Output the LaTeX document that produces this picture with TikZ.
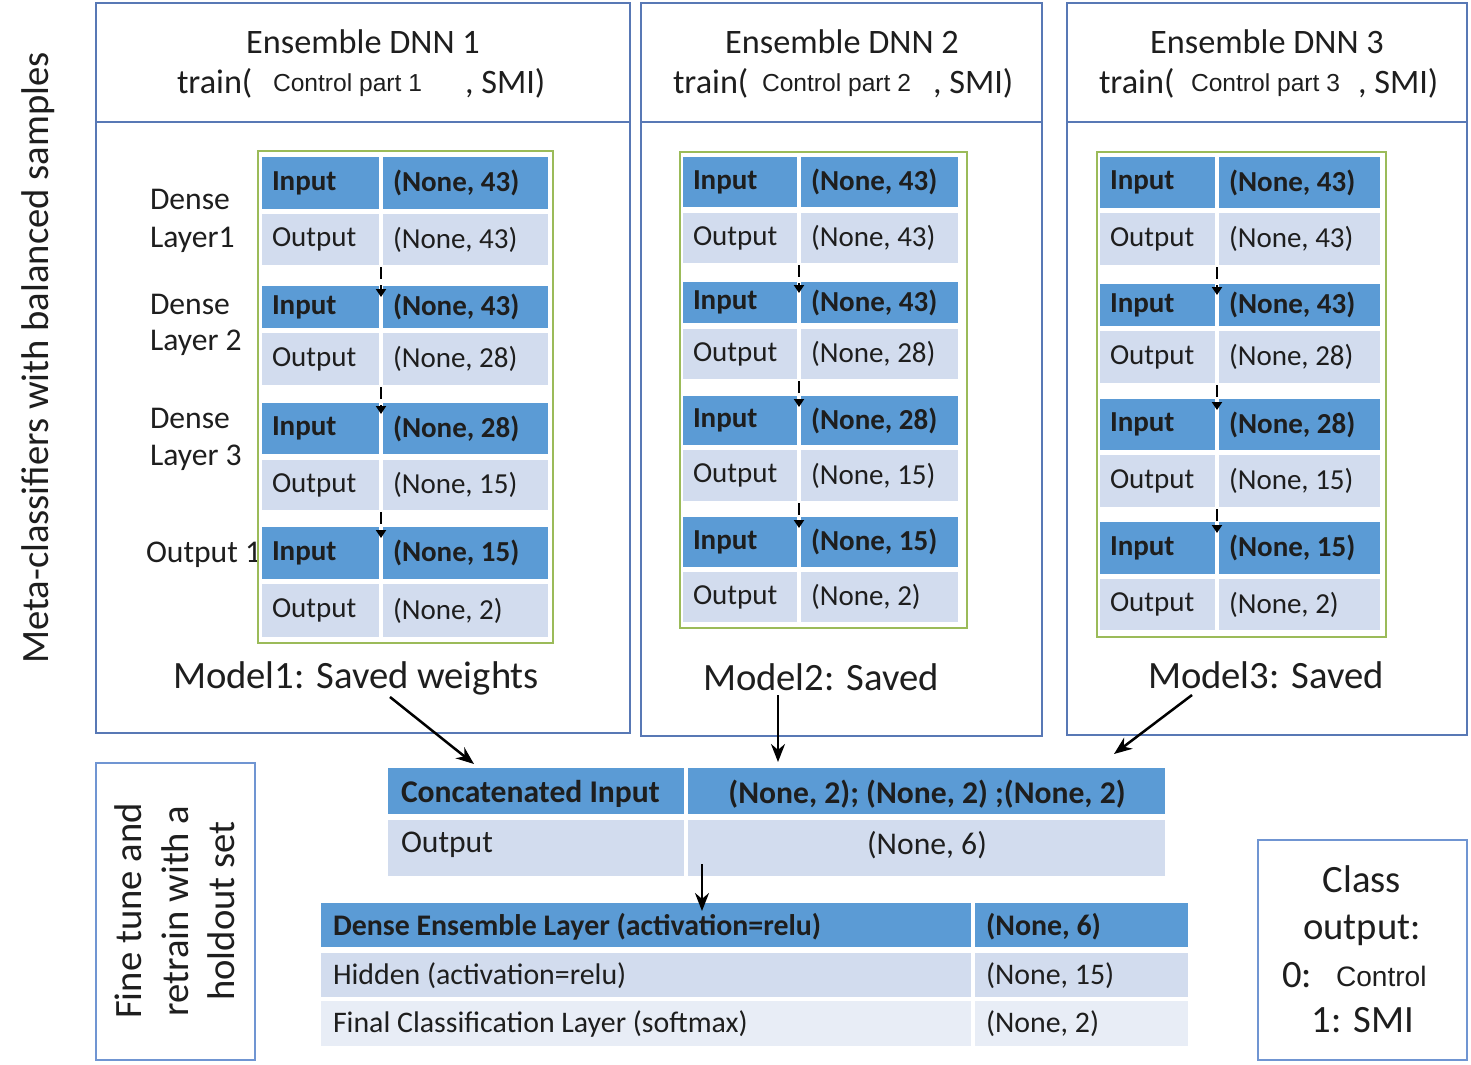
\documentclass[tikz,border=0pt]{standalone}
\usepackage{fontspec}
\setmainfont{Carlito}
\newfontfamily\arialf{Liberation Sans}
\usetikzlibrary{arrows.meta}
\definecolor{boxblue}{HTML}{5878B5}
\definecolor{lboxblue}{HTML}{7095D2}
\definecolor{cellblue}{HTML}{5B9BD5}
\definecolor{celllt}{HTML}{D2DCEE}
\definecolor{cellltt}{HTML}{E8EDF6}
\definecolor{gborder}{HTML}{9BBB59}
\definecolor{txtc}{HTML}{1E1E1E}
% name, x1, xsplit, x2, y1, y2, fill, left text, right text
\newcommand\trow[9]{%
  \fill[#7] (#2,#5) rectangle (#3-2,#6);
  \fill[#7] (#3+2,#5) rectangle (#4,#6);
  \node[celltxt] (#1l) at (#2+10,{(#5+#6)/2}) {#8};
  \node[celltxt] (#1r) at (#3+12,{(#5+#6)/2}) {#9};
  \coordinate (#1t) at (#3,#5+11);
  \coordinate (#1b) at (#3,#6+2);
}
\begin{document}
\begin{tikzpicture}[x=0.02cm,y=-0.02cm,
  every node/.style={inner sep=0pt, outer sep=0pt, text=txtc},
  obox/.style={draw=boxblue, line width=0.04cm},
  fbox/.style={draw=lboxblue, line width=0.04cm},
  gbox/.style={draw=gborder, line width=0.04cm},
  celltxt/.style={anchor=west, font=\fontsize{16.5pt}{19pt}\selectfont},
  hdr/.style={anchor=base, font=\fontsize{19.5pt}{23pt}\selectfont},
  hdrw/.style={anchor=base west, font=\fontsize{19.5pt}{23pt}\selectfont},
  arial/.style={anchor=base west, font=\fontsize{14pt}{17pt}\arialf},
  model/.style={anchor=base west, font=\fontsize{22pt}{26pt}\selectfont},
  side/.style={anchor=west, font=\fontsize{18pt}{21pt}\selectfont},
  big/.style={font=\fontsize{22pt}{26.5pt}\selectfont},
  bigtxt/.style={anchor=west, font=\fontsize{18pt}{21pt}\selectfont},
  dtxt/.style={anchor=west, font=\fontsize{17pt}{20pt}\selectfont},
  arr/.style={draw=black, line width=0.05cm, -{Stealth[length=0.36cm,width=0.28cm]}},
  dasharr/.style={draw=black, line width=0.04cm, dash pattern=on 0.24cm off 0.12cm, -{Triangle[length=0.16cm,width=0.2cm]}},
]
\useasboundingbox (0,0) rectangle (1471,1065);

% ---------- vertical title ----------
\node[rotate=90, big] (title) at (38,358) {Meta-classifiers with balanced samples};

% ---------- outer boxes ----------
\draw[obox] (96,3) rectangle (630,733);
\draw[obox] (96,122) -- (630,122);
\draw[obox] (641,3) rectangle (1042,736);
\draw[obox] (641,122) -- (1042,122);
\draw[obox] (1067,3) rectangle (1467,735);
\draw[obox] (1067,122) -- (1467,122);

% ---------- headers ----------
\node[hdr] (h1) at (363,53) {Ensemble DNN 1};
\node[hdrw] (h1a) at (177,93) {train(};
\node[arial] (h1b) at (273,91) {Control part 1};
\node[hdrw] (h1c) at (465,93) {, SMI)};

\node[hdr] (h2) at (842,53) {Ensemble DNN 2};
\node[hdrw] (h2a) at (673,93) {train(};
\node[arial] (h2b) at (762,91) {Control part 2};
\node[hdrw] (h2c) at (933,93) {, SMI)};

\node[hdr] (h3) at (1267,53) {Ensemble DNN 3};
\node[hdrw] (h3a) at (1099,93) {train(};
\node[arial] (h3b) at (1191,91) {Control part 3};
\node[hdrw] (h3c) at (1358,93) {, SMI)};

% ---------- side labels ----------
\node[side] (s1) at (150,199) {Dense};
\node[side] (s2) at (150,240) {Layer1};
\node[side] (s3) at (150,304) {Dense};
\node[side] (s4) at (150,343) {Layer 2};
\node[side] (s5) at (150,418) {Dense};
\node[side] (s6) at (150,458) {Layer 3};
\node[side] (s7) at (146,555) {Output 1};

% ---------- table 1 ----------
\fill[white] (258,151) rectangle (553,643);
\draw[gbox] (258,151) rectangle (553,643);
\trow{ta}{262}{381}{548}{157}{209}{cellblue}{\textbf{Input}}{\textbf{(None, 43)}}
\trow{tb}{262}{381}{548}{214}{265}{celllt}{Output}{(None, 43)}
\trow{tc}{262}{381}{548}{286}{328}{cellblue}{\textbf{Input}}{\textbf{(None, 43)}}
\trow{td}{262}{381}{548}{333}{385}{celllt}{Output}{(None, 28)}
\trow{te}{262}{381}{548}{403}{454}{cellblue}{\textbf{Input}}{\textbf{(None, 28)}}
\trow{tf}{262}{381}{548}{460}{510}{celllt}{Output}{(None, 15)}
\trow{tg}{262}{381}{548}{527}{579}{cellblue}{\textbf{Input}}{\textbf{(None, 15)}}
\trow{th}{262}{381}{548}{584}{637}{celllt}{Output}{(None, 2)}
\draw[dasharr] (tbb) -- (tct);
\draw[dasharr] (tdb) -- (tet);
\draw[dasharr] (tfb) -- (tgt);

% ---------- table 2 ----------
\draw[gbox] (680,152) rectangle (967,628);
\trow{ua}{683}{799}{958}{157}{207}{cellblue}{\textbf{Input}}{\textbf{(None, 43)}}
\trow{ub}{683}{799}{958}{213}{263}{celllt}{Output}{(None, 43)}
\trow{uc}{683}{799}{958}{282}{323}{cellblue}{\textbf{Input}}{\textbf{(None, 43)}}
\trow{ud}{683}{799}{958}{329}{379}{celllt}{Output}{(None, 28)}
\trow{ue}{683}{799}{958}{396}{445}{cellblue}{\textbf{Input}}{\textbf{(None, 28)}}
\trow{uf}{683}{799}{958}{450}{501}{celllt}{Output}{(None, 15)}
\trow{ug}{683}{799}{958}{517}{567}{cellblue}{\textbf{Input}}{\textbf{(None, 15)}}
\trow{uh}{683}{799}{958}{572}{622}{celllt}{Output}{(None, 2)}
\draw[dasharr] (ubb) -- (uct);
\draw[dasharr] (udb) -- (uet);
\draw[dasharr] (ufb) -- (ugt);

% ---------- table 3 ----------
\draw[gbox] (1097,152) rectangle (1386,637);
\trow{va}{1100}{1217}{1380}{157}{208}{cellblue}{\textbf{Input}}{\textbf{(None, 43)}}
\trow{vb}{1100}{1217}{1380}{213}{265}{celllt}{Output}{(None, 43)}
\trow{vc}{1100}{1217}{1380}{284}{326}{cellblue}{\textbf{Input}}{\textbf{(None, 43)}}
\trow{vd}{1100}{1217}{1380}{331}{383}{celllt}{Output}{(None, 28)}
\trow{ve}{1100}{1217}{1380}{399}{450}{cellblue}{\textbf{Input}}{\textbf{(None, 28)}}
\trow{vf}{1100}{1217}{1380}{455}{507}{celllt}{Output}{(None, 15)}
\trow{vg}{1100}{1217}{1380}{522}{574}{cellblue}{\textbf{Input}}{\textbf{(None, 15)}}
\trow{vh}{1100}{1217}{1380}{579}{630}{celllt}{Output}{(None, 2)}
\draw[dasharr] (vbb) -- (vct);
\draw[dasharr] (vdb) -- (vet);
\draw[dasharr] (vfb) -- (vgt);

% ---------- model labels ----------
\node[model] (m1) at (173,688) {Model1: Saved weights};
\node[model] (m2) at (703,690) {Model2: Saved};
\node[model] (m3) at (1148,688) {Model3: Saved};

% ---------- concatenation table ----------
\fill[cellblue] (388,768) rectangle (684,814);
\fill[cellblue] (688,768) rectangle (1165,814);
\fill[celllt] (388,820) rectangle (684,876);
\fill[celllt] (688,820) rectangle (1165,876);
\node[bigtxt] (c1) at (401,794) {\textbf{Concatenated Input}};
\node[font=\fontsize{18pt}{21pt}\selectfont] (c2) at (927,794) {\textbf{(None, 2); (None, 2) ;(None, 2)}};
\node[bigtxt] (c3) at (401,845) {Output};
\node[font=\fontsize{18pt}{21pt}\selectfont] (c4) at (927,845) {(None, 6)};

% ---------- dense ensemble table ----------
\fill[cellblue] (321,903) rectangle (971,947);
\fill[cellblue] (975,903) rectangle (1188,947);
\fill[celllt] (321,953) rectangle (971,997);
\fill[celllt] (975,953) rectangle (1188,997);
\fill[cellltt] (321,1001) rectangle (971,1046);
\fill[cellltt] (975,1001) rectangle (1188,1046);
\node[dtxt] (d1) at (333,927) {\textbf{Dense Ensemble Layer (activation=relu)}};
\node[dtxt] (d2) at (986,927) {\textbf{(None, 6)}};
\node[dtxt] (d3) at (333,976) {Hidden (activation=relu)};
\node[dtxt] (d4) at (986,976) {(None, 15)};
\node[dtxt] (d5) at (333,1024) {Final Classification Layer (softmax)};
\node[dtxt] (d6) at (986,1024) {(None, 2)};

% ---------- arrows ----------
\coordinate (a1s) at (390,697);
\coordinate (a1e) at (474,764);
\coordinate (a2s) at (778,695);
\coordinate (a2e) at (778,762);
\coordinate (a3s) at (1192,695);
\coordinate (a3e) at (1114,754);
\coordinate (a4s) at (702,864);
\coordinate (a4e) at (702,911);
\draw[arr] (a1s) -- (a1e);
\draw[arr] (a2s) -- (a2e);
\draw[arr] (a3s) -- (a3e);
\draw[arr] (a4s) -- (a4e);

% ---------- fine tune box ----------
\draw[fbox] (96,763) rectangle (255,1060);
\node[rotate=90, align=center, big] (ft) at (175,911) {Fine tune and\\retrain with a\\holdout set};

% ---------- class output box ----------
\draw[fbox] (1258,840) rectangle (1467,1060);
\node[big, anchor=base] (k1) at (1362,892) {Class};
\node[big, anchor=base] (k2) at (1362,939) {output:};
\node[big, anchor=base west] (k3) at (1282,987) {0:};
\node[anchor=base west, font=\fontsize{16pt}{19pt}\arialf] (k4) at (1336,986) {Control};
\node[big, anchor=base] (k5) at (1363,1032) {1: SMI};
\end{tikzpicture}
\end{document}
